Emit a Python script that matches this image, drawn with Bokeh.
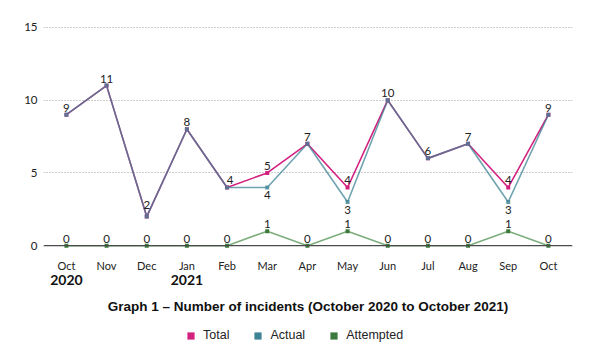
from bokeh.plotting import figure
from bokeh.layouts import column
from bokeh.models import (Range1d, FixedTicker, LinearAxis, Span, Legend, LegendItem,
                          Title, ColumnDataSource)
from bokeh.core.properties import value
from bokeh.embed import file_html
from bokeh.resources import INLINE

months = ["Oct", "Nov", "Dec", "Jan", "Feb", "Mar", "Apr", "May", "Jun", "Jul", "Aug", "Sep", "Oct"]
year_labels = {0: "2020", 3: "2021"}
total = [9, 11, 2, 8, 4, 5, 7, 4, 10, 6, 7, 4, 9]
actual = [9, 11, 2, 8, 4, 4, 7, 3, 10, 6, 7, 3, 9]
attempted = [0, 0, 0, 0, 0, 1, 0, 1, 0, 0, 0, 1, 0]
y_ticks = [0, 5, 10, 15]
series_names = ["Total", "Actual", "Attempted"]
title_text = "Graph 1 \u2013 Number of incidents (October 2020 to October 2021)"

C_TOTAL = "#d3217f"
C_ACTUAL = "#3f8496"
C_ATT = "#3c7a3c"
C_ATT_LINE = "#6fa46f"
TXT = "#222222"
FONT = "Lato"

x = list(range(len(months)))

p = figure(width=600, height=323, output_backend="svg", toolbar_location=None,
           x_range=Range1d(-0.57, 12.6), y_range=Range1d(-0.4, 16.3),
           min_border_left=43, min_border_right=28, min_border_top=8, min_border_bottom=0)
p.outline_line_color = None
p.background_fill_color = "white"

# grid
p.xgrid.visible = False
p.ygrid.ticker = FixedTicker(ticks=[t for t in y_ticks if t != 0])
p.ygrid.grid_line_color = "#9a9a9a"
p.ygrid.grid_line_dash = "1 2"
p.ygrid.grid_line_width = 1

# y axis
p.yaxis.ticker = FixedTicker(ticks=y_ticks)
p.yaxis.axis_line_color = None
p.yaxis.major_tick_line_color = None
p.yaxis.minor_tick_line_color = None
p.yaxis.major_tick_out = 0
p.yaxis.minor_tick_out = 0
p.yaxis.major_label_standoff = 6
p.yaxis.major_label_text_font = FONT
p.yaxis.major_label_text_font_size = "11.5px"
p.yaxis.major_label_text_color = TXT

# x axis (months)
p.xaxis.ticker = FixedTicker(ticks=x)
p.xaxis.major_label_overrides = {i: m for i, m in zip(x, months)}
p.xaxis.axis_line_color = None
p.xaxis.major_tick_line_color = None
p.xaxis.minor_tick_line_color = None
p.xaxis.major_tick_out = 0
p.xaxis.minor_tick_out = 0
p.xaxis.major_label_standoff = 7
p.xaxis.major_label_text_font = FONT
p.xaxis.major_label_text_font_size = "11px"
p.xaxis.major_label_text_color = TXT

# year axis
yax = LinearAxis(ticker=FixedTicker(ticks=list(year_labels.keys())),
                 major_label_overrides=year_labels)
yax.axis_line_color = None
yax.major_tick_line_color = None
yax.minor_tick_line_color = None
yax.major_tick_out = 0
yax.minor_tick_out = 0
yax.major_label_standoff = 0
yax.major_label_text_font = FONT
yax.major_label_text_font_size = "14px"
yax.major_label_text_font_style = "bold"
yax.major_label_text_color = "#111111"
p.add_layout(yax, "below")

# zero line
p.add_layout(Span(location=0, dimension="width", line_color="#4a4a4a", line_width=1.3))

# lines
p.line(x, total, line_color=C_TOTAL, line_width=1.6)
p.line(x, actual, line_color=C_ACTUAL, line_width=1.6, line_alpha=0.75)
p.line(x, attempted, line_color=C_ATT_LINE, line_width=1.6, line_alpha=0.9)

p.scatter(x, total, marker="square", size=4, fill_color=C_TOTAL, line_color=None)
p.scatter(x, actual, marker="square", size=4, fill_color=C_ACTUAL, line_color=None, fill_alpha=0.8)
p.scatter(x, attempted, marker="square", size=4, fill_color=C_ATT, line_color=None)

# value labels
tot_dx = [0] * len(x)
tot_dy = [-3] * len(x)
tot_dx[4] = 3
tot_dy[2] = -8
src_t = ColumnDataSource(dict(x=x, y=total, t=[str(v) for v in total], dx=tot_dx, dy=tot_dy))
p.text(x="x", y="y", text="t", x_offset="dx", y_offset="dy", source=src_t,
       text_align="center", text_baseline="bottom", text_font=value(FONT),
       text_font_size="11.5px", text_color=TXT)

ai = [i for i in x if actual[i] != total[i]]
src_a = ColumnDataSource(dict(x=ai, y=[actual[i] for i in ai], t=[str(actual[i]) for i in ai]))
p.text(x="x", y="y", text="t", y_offset=4, source=src_a,
       text_align="center", text_baseline="top", text_font=value(FONT),
       text_font_size="11.5px", text_color=TXT)

src_m = ColumnDataSource(dict(x=x, y=attempted, t=[str(v) for v in attempted]))
p.text(x="x", y="y", text="t", y_offset=-3, source=src_m,
       text_align="center", text_baseline="bottom", text_font=value(FONT),
       text_font_size="11.5px", text_color=TXT)

# title below
t = Title(text=title_text, align="center", text_font="Liberation Sans",
          text_font_size="13.5px", text_font_style="bold", text_color="#111111",
          standoff=19, offset=8)
p.add_layout(t, "below")

# legend in a separate strip (square swatches)
p2 = figure(width=600, height=22, output_backend="svg", toolbar_location=None,
            x_range=Range1d(0, 1), y_range=Range1d(0, 1),
            x_axis_type=None, y_axis_type=None,
            min_border=0)
p2.outline_line_color = None
p2.grid.visible = False
rs = []
for c in [C_TOTAL, C_ACTUAL, C_ATT]:
    rs.append(p2.quad(left=[-5], right=[-4], bottom=[-5], top=[-4],
                      fill_color=c, line_color=None))
leg = Legend(items=[LegendItem(label=n, renderers=[r]) for n, r in zip(series_names, rs)],
             orientation="horizontal", location=(143, 3),
             label_text_font="Liberation Sans", label_text_font_size="12.5px",
             label_text_color="#222222", glyph_width=9, glyph_height=9,
             label_standoff=8, spacing=24, padding=0, margin=0,
             border_line_color=None, background_fill_alpha=0)
p2.add_layout(leg)

layout = column(p, p2, spacing=0)
open("out.html", "w").write(file_html(layout, INLINE))
